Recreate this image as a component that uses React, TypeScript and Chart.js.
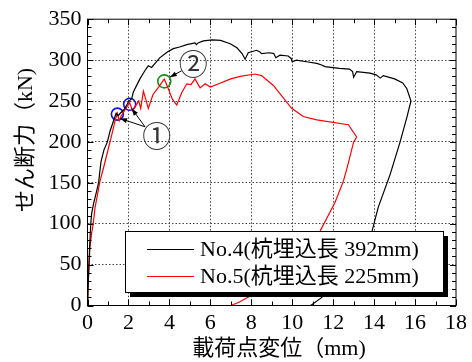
import React, { useEffect, useRef } from 'react';
import { Chart, registerables } from 'chart.js';

Chart.register(...registerables);

const FONT = '"Liberation Serif", "Noto Sans CJK JP", serif';
const CJK_FONT = '"Noto Sans CJK JP", sans-serif';

// No.4 (杭埋込長 392mm)
const no4X = [0, 0.04, 0.1, 0.16, 0.2, 0.3, 0.37, 0.54, 0.66, 0.8, 0.97, 1.1, 1.3, 1.4, 1.5, 1.6, 1.8, 2.0, 2.16, 2.24, 2.56, 2.8, 2.97, 3.13, 3.3, 3.54, 3.9, 4.19, 4.5, 4.85, 5.25, 5.32, 5.4, 5.66, 6.1, 6.5, 6.97, 7.3, 7.55, 7.7, 7.85, 8.26, 8.42, 8.5, 8.9, 9.1, 9.2, 9.4, 9.8, 9.95, 10.0, 10.2, 10.7, 11.2, 11.44, 11.6, 12.3, 12.8, 12.95, 13.0, 13.15, 13.8, 14.1, 14.3, 14.45, 15.0, 15.4, 15.6, 15.8, 15.6, 15.27, 14.78, 14.2, 13.9, 13.2, 12.3, 11.4, 10.9];
const no4Y = [0, 30, 70, 100, 112, 125, 132, 150, 176, 190, 200, 213, 228, 235, 232, 235, 240, 249, 253, 261, 277, 287, 293, 291, 296, 303, 310, 314, 316, 319, 321, 319, 321, 323.5, 324.7, 324, 320, 315, 308, 301, 309, 312, 310, 308, 309, 308, 303, 306, 305, 302, 298, 300, 298, 296, 294, 292, 290, 289, 286, 279, 286, 284, 282, 278, 281, 277, 272, 265, 250, 230, 200, 160, 120, 91, 60, 30, 9, 0];

// No.5 (杭埋込長 225mm)
const no5X = [0, 0.04, 0.12, 0.2, 0.28, 0.37, 0.5, 0.61, 0.75, 0.9, 1.1, 1.2, 1.34, 1.46, 1.55, 1.65, 1.8, 2.06, 2.2, 2.35, 2.5, 2.6, 2.73, 2.85, 2.97, 3.2, 3.5, 3.75, 3.9, 4.15, 4.36, 4.6, 4.85, 5.05, 5.25, 5.5, 5.75, 6.0, 6.5, 7.0, 7.45, 8.18, 8.5, 9.08, 9.97, 10.54, 11.2, 12.74, 13.15, 13.0, 12.75, 12.5, 12.09, 11.36, 10.5, 9.5, 8.5, 7.9, 7.4, 7.0];
const no5Y = [0, 31, 71, 88, 100, 120, 137, 152, 165, 180, 200, 210, 225, 235, 226, 232, 238, 248, 238, 244, 250, 241, 262, 252, 241, 258, 268, 277, 268, 252, 245, 260, 271, 270, 277, 266, 271, 267, 272, 277, 280, 283, 281, 269, 241, 231, 227, 221, 206, 200, 175, 152, 126, 91, 68, 45, 22, 11, 4, 0];

const seriesLabels = ['No.4(杭埋込長 392mm)', 'No.5(杭埋込長 225mm)'];
const seriesColors = ['#000000', '#ff0000'];

// marked points
const blueMarkX = [1.46, 2.06];
const blueMarkY = [234, 246];
const greenMarkX = [3.75];
const greenMarkY = [274];

// annotation ① and ② (data coordinates)
const note1 = { text: '①', x: 3.38, y: 207 };
const note1From = { x: 2.81, y: 218.5 };
const note1To = [{ x: 1.59, y: 228.6 }, { x: 2.16, y: 240.7 }];
const note2 = { text: '②', x: 5.17, y: 295 };
const note2From = { x: 4.6, y: 287 };
const note2To = [{ x: 4.02, y: 279 }];

const xTitle = '載荷点変位（mm)';
const yTitle = 'せん断力（kN)';

const X_MIN = 0, X_MAX = 18, X_STEP = 1, X_LABEL_EVERY = 2;
const Y_MIN = 0, Y_MAX = 350, Y_STEP = 10, Y_LABEL_EVERY = 50;

function pts(xs: number[], ys: number[]) {
  return xs.map((x, i) => ({ x, y: ys[i] }));
}

function arrow(ctx: CanvasRenderingContext2D, x1: number, y1: number, x2: number, y2: number) {
  ctx.beginPath();
  ctx.moveTo(x1, y1);
  ctx.lineTo(x2, y2);
  ctx.stroke();
  const a = Math.atan2(y2 - y1, x2 - x1);
  const L = 7, W = 2.5;
  ctx.beginPath();
  ctx.moveTo(x2, y2);
  ctx.lineTo(x2 - L * Math.cos(a) + W * Math.sin(a), y2 - L * Math.sin(a) - W * Math.cos(a));
  ctx.lineTo(x2 - L * Math.cos(a) - W * Math.sin(a), y2 - L * Math.sin(a) + W * Math.cos(a));
  ctx.closePath();
  ctx.fill();
}

const decorPlugin = {
  id: 'decor',
  beforeDraw(chart: any) {
    const ctx = chart.ctx;
    ctx.save();
    ctx.fillStyle = '#ffffff';
    ctx.fillRect(0, 0, chart.width, chart.height);
    ctx.restore();
  },
  afterDatasetsDraw(chart: any) {
    const ctx: CanvasRenderingContext2D = chart.ctx;
    const { left, right, top, bottom } = chart.chartArea;
    const xs = chart.scales.x;
    const ys = chart.scales.y;
    const px = (v: number) => xs.getPixelForValue(v);
    const py = (v: number) => ys.getPixelForValue(v);

    ctx.save();
    // annotations
    ctx.strokeStyle = '#000';
    ctx.fillStyle = '#000';
    ctx.lineWidth = 1;
    note1To.forEach((t) => arrow(ctx, px(note1From.x), py(note1From.y), px(t.x), py(t.y)));
    note2To.forEach((t) => arrow(ctx, px(note2From.x), py(note2From.y), px(t.x), py(t.y)));
    ctx.font = `29px ${CJK_FONT}`;
    ctx.textAlign = 'center';
    ctx.textBaseline = 'middle';
    ctx.fillStyle = '#333';
    ctx.fillText(note1.text, px(note1.x), py(note1.y));
    ctx.fillText(note2.text, px(note2.x), py(note2.y));

    // legend box with shadow
    const lx = 125, ly = 231, lw = 318, lh = 61, sh = 5;
    ctx.fillStyle = '#000';
    ctx.fillRect(lx + sh, ly + sh, lw, lh);
    ctx.fillStyle = '#fff';
    ctx.fillRect(lx, ly, lw, lh);
    ctx.strokeStyle = '#000';
    ctx.lineWidth = 1;
    ctx.strokeRect(lx + 0.5, ly + 0.5, lw, lh);
    ctx.textAlign = 'left';
    ctx.textBaseline = 'middle';
    ctx.font = `22px ${FONT}`;
    seriesLabels.forEach((lab, i) => {
      const yy = 249 + i * 27;
      ctx.strokeStyle = seriesColors[i];
      ctx.lineWidth = 1.2;
      ctx.beginPath();
      ctx.moveTo(147, yy + 0.5);
      ctx.lineTo(194, yy + 0.5);
      ctx.stroke();
      ctx.fillStyle = '#000';
      ctx.fillText(lab, 200, yy + 1);
    });

    // frame
    ctx.strokeStyle = '#000';
    ctx.lineWidth = 1;
    ctx.strokeRect(left, top, right - left, bottom - top);

    // inward ticks on all four sides
    ctx.beginPath();
    xs.ticks.forEach((t: any) => {
      const v = t.value;
      const p = Math.round(px(v)) + 0.5;
      const len = v % X_LABEL_EVERY === 0 ? 6 : 4;
      ctx.moveTo(p, bottom);
      ctx.lineTo(p, bottom - len);
      ctx.moveTo(p, top);
      ctx.lineTo(p, top + len);
    });
    ys.ticks.forEach((t: any) => {
      const v = t.value;
      const p = Math.round(py(v)) + 0.5;
      const len = v % Y_LABEL_EVERY === 0 ? 6 : 4;
      ctx.moveTo(left, p);
      ctx.lineTo(left + len, p);
      ctx.moveTo(right, p);
      ctx.lineTo(right - len, p);
    });
    ctx.stroke();

    // axis titles
    ctx.fillStyle = '#000';
    ctx.font = `22px ${FONT}`;
    ctx.textAlign = 'center';
    ctx.textBaseline = 'middle';
    ctx.fillText(xTitle, 279, 349);
    ctx.save();
    ctx.translate(26, 140);
    ctx.rotate(-Math.PI / 2);
    ctx.fillText(yTitle, 0, 0);
    ctx.restore();
    ctx.restore();
  },
};

export default function App() {
  const ref = useRef<HTMLCanvasElement>(null);
  useEffect(() => {
    const chart = new Chart(ref.current as HTMLCanvasElement, {
      type: 'scatter',
      data: {
        datasets: [
          {
            label: seriesLabels[0],
            data: pts(no4X, no4Y),
            showLine: true,
            borderColor: seriesColors[0],
            borderWidth: 1.2,
            pointRadius: 0,
            tension: 0,
          },
          {
            label: seriesLabels[1],
            data: pts(no5X, no5Y),
            showLine: true,
            borderColor: seriesColors[1],
            borderWidth: 1.2,
            pointRadius: 0,
            tension: 0,
          },
          {
            label: 'mark1',
            data: pts(blueMarkX, blueMarkY),
            showLine: false,
            pointRadius: 6,
            pointBorderWidth: 1.6,
            pointBorderColor: '#1010ee',
            pointBackgroundColor: 'rgba(0,0,0,0)',
          },
          {
            label: 'mark2',
            data: pts(greenMarkX, greenMarkY),
            showLine: false,
            pointRadius: 6.5,
            pointBorderWidth: 1.6,
            pointBorderColor: '#169016',
            pointBackgroundColor: 'rgba(0,0,0,0)',
          },
        ],
      },
      options: {
        responsive: false,
        devicePixelRatio: 1,
        animation: false,
        events: [],
        layout: { padding: { top: 16.5, right: 15.5, left: 0, bottom: 0 } },
        plugins: { legend: { display: false }, tooltip: { enabled: false } },
        scales: {
          x: {
            type: 'linear',
            min: X_MIN,
            max: X_MAX,
            afterFit: (s: any) => { s.height = 56.5; },
            ticks: {
              stepSize: X_STEP,
              autoSkip: false,
              maxRotation: 0,
              padding: 5,
              color: '#000',
              font: { family: FONT, size: 22 },
              callback: (v: any) => (Number(v) % X_LABEL_EVERY === 0 ? String(v) : ''),
            },
            grid: {
              drawTicks: false,
              lineWidth: 1,
              color: (c: any) =>
                c.tick && c.tick.value % X_LABEL_EVERY === 0 && c.tick.value > X_MIN && c.tick.value < X_MAX
                  ? '#444'
                  : 'rgba(0,0,0,0)',
            },
            border: { display: false, dash: [1.5, 2] },
          },
          y: {
            type: 'linear',
            min: Y_MIN,
            max: Y_MAX,
            afterFit: (s: any) => { s.width = 87.5; },
            ticks: {
              stepSize: Y_STEP,
              autoSkip: false,
              padding: 6,
              color: '#000',
              font: { family: FONT, size: 22 },
              callback: (v: any) => (Number(v) % Y_LABEL_EVERY === 0 ? String(v) : ''),
            },
            grid: {
              drawTicks: false,
              lineWidth: 1,
              color: (c: any) =>
                c.tick && c.tick.value % Y_LABEL_EVERY === 0 && c.tick.value > Y_MIN && c.tick.value < Y_MAX
                  ? '#444'
                  : 'rgba(0,0,0,0)',
            },
            border: { display: false, dash: [1.5, 2] },
          },
        },
      },
      plugins: [decorPlugin],
    } as any);
    return () => chart.destroy();
  }, []);
  return (
    <div style={{ position: 'fixed', left: 0, top: 0, width: 472, height: 362, background: '#fff' }}>
      <canvas ref={ref} width={472} height={362} style={{ display: 'block', width: 472, height: 362 }} />
    </div>
  );
}
